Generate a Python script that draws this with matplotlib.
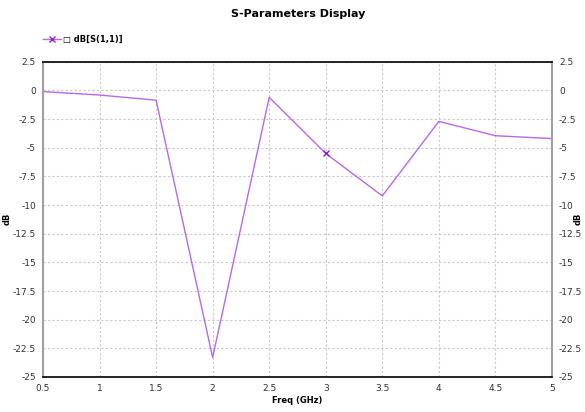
import numpy as np
import matplotlib.pyplot as plt

freq = [0.5, 1.0, 1.5, 2.0, 2.5, 3.0, 3.5, 4.0, 4.5, 5.0]
s11_db = [-0.1, -0.4, -0.85, -23.3, -0.6, -5.5, -9.2, -2.7, -3.95, -4.2]
yticks = [2.5, 0, -2.5, -5, -7.5, -10, -12.5, -15, -17.5, -20, -22.5, -25]
xticks = [0.5, 1, 1.5, 2, 2.5, 3, 3.5, 4, 4.5, 5]

plt.rcParams['font.family'] = ['Liberation Sans Narrow', 'DejaVu Sans']
fig = plt.figure(figsize=(5.85, 4.12), dpi=100)
ax = fig.add_axes([0.0735, 0.085, 0.87, 0.765])

ax.plot(freq, s11_db, color='#b868ea', lw=1.0, marker='x', ms=4, markevery=[5],
        mec='#9020d0')
ax.set_xlim(0.5, 5)
ax.set_ylim(-25, 2.5)
ax.set_xticks(xticks)
ax.set_xticklabels([('%g' % t) for t in xticks])
ax.set_yticks(yticks)
ax.set_yticklabels([('%g' % t) for t in yticks])
ax.tick_params(labelsize=6.5, length=0, pad=5, labelcolor='#303030')
ax.tick_params(axis='y', right=True, labelright=True)
ax.grid(True, color='#c8c8c8', ls=(0, (2, 2)), lw=0.8)

for s in ['top', 'bottom']:
    ax.spines[s].set_color('black')
    ax.spines[s].set_linewidth(1.2)
for s in ['left', 'right']:
    ax.spines[s].set_color('#a0a0a0')
    ax.spines[s].set_linewidth(1.5)

ax.set_xlabel('Freq (GHz)', fontsize=6, fontweight='bold', labelpad=2)
fig.text(0.013, 0.47, 'dB', rotation=90, ha='center', va='center',
         fontsize=6, fontweight='bold')
fig.text(0.988, 0.47, 'dB', rotation=90, ha='center', va='center',
         fontsize=6, fontweight='bold')

fig.text(0.51, 0.965, 'S-Parameters Display', ha='center', va='center',
         fontsize=8, fontweight='bold')
fig.legend(['\u25a1 dB[S(1,1)]'], loc='center left', bbox_to_anchor=(0.06, 0.905),
           frameon=False, handlelength=2.2, handletextpad=0.3,
           prop={'weight': 'bold', 'size': 6})

fig.savefig('out.png', dpi=100)
